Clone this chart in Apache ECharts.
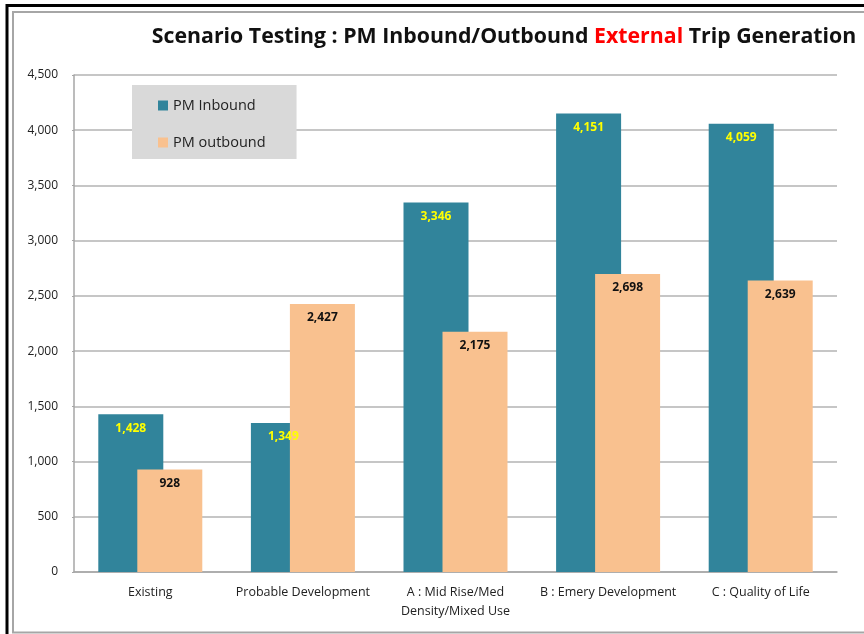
<!DOCTYPE html>
<html>
<head>
<meta charset="utf-8">
<script src="https://cdn.jsdelivr.net/npm/echarts@6/dist/echarts.min.js"></script>
<style>
  html, body { margin: 0; padding: 0; background: #fff; }
  #chart { width: 864px; height: 634px; }
</style>
</head>
<body>
<div id="chart"></div>
<script>
// Scenario categories along the x axis
const scenarios = [
  'Existing',
  'Probable Development',
  'A : Mid Rise/Med\nDensity/Mixed Use',
  'B : Emery Development',
  'C : Quality of Life'
];

// PM peak external trips per scenario
const pmInbound = [1428, 1349, 3346, 4151, 4059];
const pmOutbound = [928, 2427, 2175, 2698, 2639];

// Value axis ticks
const yTicks = [0, 500, 1000, 1500, 2000, 2500, 3000, 3500, 4000, 4500];

const FONT = 'Open Sans, Lato, sans-serif';
const fmt = v => v.toLocaleString('en-US');

const chart = echarts.init(document.getElementById('chart'), null, { renderer: 'canvas' });

chart.setOption({
  animation: false,
  backgroundColor: '#ffffff',
  title: {
    text: '{k|Scenario Testing : PM Inbound/Outbound }{r|External}{k| Trip Generation}',
    left: 499,
    textAlign: 'center',
    top: 21,
    textStyle: {
      rich: {
        k: { fontFamily: FONT, fontSize: 21.3, fontWeight: 'bold', color: '#111111' },
        r: { fontFamily: FONT, fontSize: 21.3, fontWeight: 'bold', color: '#ff0000' }
      }
    }
  },
  legend: {
    orient: 'vertical',
    left: 132,
    top: 85,
    padding: [13, 31, 9, 26],
    itemGap: 22,
    itemWidth: 10,
    itemHeight: 10,
    icon: 'rect',
    backgroundColor: '#d9d9d9',
    textStyle: { fontFamily: FONT, fontSize: 14.5, color: '#222222' },
    data: ['PM Inbound', 'PM outbound']
  },
  grid: { left: 74, right: 27, top: 75, bottom: 62, containLabel: false },
  xAxis: {
    type: 'category',
    data: scenarios,
    axisLine: { show: true, lineStyle: { color: '#a6a6a6', width: 1.5 } },
    axisTick: { show: false },
    axisLabel: {
      fontFamily: FONT, fontSize: 12.5, color: '#222222',
      margin: 11, lineHeight: 19, interval: 0
    }
  },
  yAxis: {
    type: 'value',
    min: yTicks[0],
    max: yTicks[yTicks.length - 1],
    interval: yTicks[1] - yTicks[0],
    axisLine: { show: true, lineStyle: { color: '#a6a6a6', width: 1.5 } },
    axisTick: { show: true, length: 2, lineStyle: { color: '#a6a6a6' } },
    splitLine: { show: true, lineStyle: { color: '#b3b3b3', width: 1.5 } },
    axisLabel: {
      fontFamily: FONT, fontSize: 12, color: '#222222', margin: 16,
      formatter: v => fmt(v)
    }
  },
  series: [
    {
      name: 'PM Inbound',
      type: 'bar',
      data: pmInbound,
      barWidth: 65,
      barGap: '-40%',
      itemStyle: { color: '#31849b' },
      z: 2,
      label: {
        show: true,
        position: 'insideTop',
        distance: 8,
        formatter: p => fmt(p.value),
        fontFamily: FONT, fontSize: 12, fontWeight: 'bold', color: '#ffff00'
      }
    },
    {
      name: 'PM outbound',
      type: 'bar',
      data: pmOutbound,
      barWidth: 65,
      barGap: '-40%',
      itemStyle: { color: '#f9c18f' },
      z: 2,
      label: {
        show: true,
        position: 'insideTop',
        distance: 8,
        formatter: p => fmt(p.value),
        fontFamily: FONT, fontSize: 12, fontWeight: 'bold', color: '#111111'
      }
    }
  ],
  graphic: [
    // outer dark frame
    { type: 'polyline', silent: true, z: 100,
      shape: { points: [[7, 640], [7, 5.5], [870, 5.5]] },
      style: { stroke: '#000000', lineWidth: 3, fill: null } },
    // inner chart-area frame
    { type: 'polyline', silent: true, z: 100,
      shape: { points: [[870, 12], [13, 12], [13, 632.5], [870, 632.5]] },
      style: { stroke: '#a6a6a6', lineWidth: 2, fill: null } }
  ]
});
</script>
</body>
</html>
